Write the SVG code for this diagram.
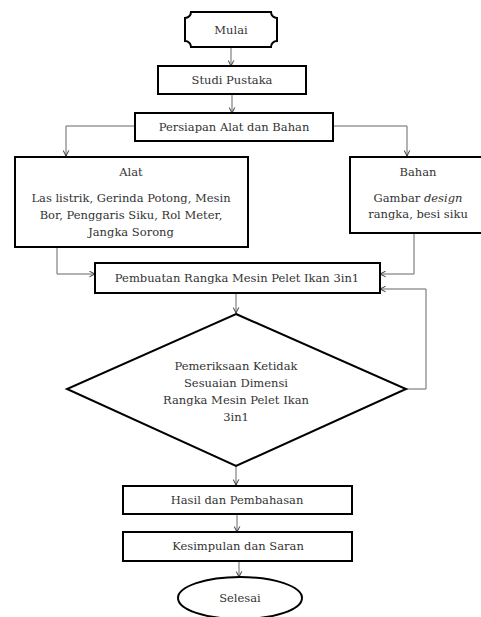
<svg xmlns="http://www.w3.org/2000/svg" width="481" height="617" viewBox="0 0 481 617">
<style>
.box{fill:#fff;stroke:#000;stroke-width:2}
text{font-family:'DejaVu Serif','Liberation Serif',serif;font-size:11.5px;fill:#333;text-anchor:middle}
.c{fill:none;stroke:#666;stroke-width:1}
</style>
<defs>
<marker id="ah" viewBox="0 0 10 10" refX="9" refY="5" markerWidth="7" markerHeight="7" markerUnits="userSpaceOnUse" orient="auto">
<path d="M1,1 L9,5 L1,9" fill="none" stroke="#333" stroke-width="1.4"/>
</marker>
</defs>
<rect width="481" height="617" fill="#fff"/>
<g id="connectors">
<line class="c" x1="231" y1="47" x2="231" y2="66" marker-end="url(#ah)"/>
<line class="c" x1="232" y1="94" x2="232" y2="113" marker-end="url(#ah)"/>
<polyline class="c" points="135,126 66,126 66,156" marker-end="url(#ah)"/>
<polyline class="c" points="333,126 407,126 407,156" marker-end="url(#ah)"/>
<polyline class="c" points="57,248 57,274 95,274" marker-end="url(#ah)"/>
<polyline class="c" points="414,233 414,274 380,274" marker-end="url(#ah)"/>
<polyline class="c" points="406,389 426,389 426,289 380,289" marker-end="url(#ah)"/>
<line class="c" x1="236" y1="293" x2="236" y2="313" marker-end="url(#ah)"/>
<line class="c" x1="236" y1="466" x2="236" y2="485" marker-end="url(#ah)"/>
<line class="c" x1="237" y1="514" x2="237" y2="532" marker-end="url(#ah)"/>
<line class="c" x1="239" y1="561" x2="239" y2="577" marker-end="url(#ah)"/>
</g>
<g id="mulai">
<path class="box" d="M191,12 L271,12 A6,6 0 0 0 277,18 L277,41 A6,6 0 0 0 271,47 L191,47 A6,6 0 0 0 185,41 L185,18 A6,6 0 0 0 191,12 Z"/>
<text x="231" y="34">Mulai</text>
</g>
<g id="studi">
<rect class="box" x="158" y="66" width="148" height="28"/>
<text x="232" y="84">Studi Pustaka</text>
</g>
<g id="persiapan">
<rect class="box" x="135" y="113" width="198" height="28"/>
<text x="234" y="131">Persiapan Alat dan Bahan</text>
</g>
<g id="alat">
<rect class="box" x="15" y="157" width="233" height="90"/>
<text x="131" y="176">Alat</text>
<text x="131" y="202">Las listrik, Gerinda Potong, Mesin</text>
<text x="131" y="219">Bor, Penggaris Siku, Rol Meter,</text>
<text x="131" y="236">Jangka Sorong</text>
</g>
<g id="bahan">
<rect class="box" x="350" y="157" width="134" height="76"/>
<text x="418" y="176">Bahan</text>
<text x="418" y="202">Gambar <tspan font-style="italic">design</tspan></text>
<text x="418" y="218">rangka, besi siku</text>
</g>
<g id="pembuatan">
<rect class="box" x="95" y="263" width="285" height="30"/>
<text x="237" y="282">Pembuatan Rangka Mesin Pelet Ikan 3in1</text>
</g>
<g id="pemeriksaan">
<polygon class="box" points="236,314 406,389 236,466 67,389"/>
<text x="236" y="370">Pemeriksaan Ketidak</text>
<text x="236" y="387">Sesuaian Dimensi</text>
<text x="236" y="404">Rangka Mesin Pelet Ikan</text>
<text x="236" y="421">3in1</text>
</g>
<g id="hasil">
<rect class="box" x="123" y="486" width="229" height="28"/>
<text x="237" y="504">Hasil dan Pembahasan</text>
</g>
<g id="kesimpulan">
<rect class="box" x="123" y="532" width="229" height="29"/>
<text x="238" y="550">Kesimpulan dan Saran</text>
</g>
<g id="selesai">
<ellipse class="box" cx="240" cy="598" rx="62" ry="21"/>
<text x="240" y="602">Selesai</text>
</g>
</svg>
